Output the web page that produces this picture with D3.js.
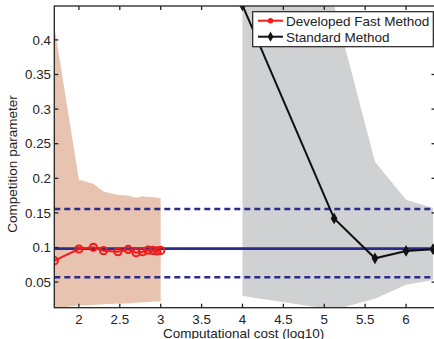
<!DOCTYPE html>
<html>
<head>
<meta charset="utf-8">
<script src="https://cdn.jsdelivr.net/npm/d3@7"></script>
<style>
  body { margin: 0; background: #fff; }
  text { font-family: "Liberation Sans", Arial, sans-serif; fill: #222; }
</style>
</head>
<body>
<script>
// fast method: x = log10 cost
const fastX = [1.699, 2.0, 2.176, 2.301, 2.477, 2.602, 2.699, 2.778, 2.845, 2.903, 2.954, 3.0];
const fastY = [0.081, 0.0978, 0.1003, 0.0954, 0.094, 0.0972, 0.0925, 0.094, 0.0962, 0.0958, 0.095, 0.0958];
const fastUpper = [0.42, 0.198, 0.192, 0.181, 0.176, 0.175, 0.172, 0.174, 0.173, 0.173, 0.172, 0.171];
const fastLower = [0.012, 0.016, 0.017, 0.018, 0.019, 0.019, 0.02, 0.021, 0.021, 0.022, 0.022, 0.022];

const stdX = [4.0, 5.12, 5.62, 6.0, 6.33];
const stdY = [0.45, 0.142, 0.0844, 0.095, 0.0975];
const stdUpper = [0.7, 0.45, 0.224, 0.169, 0.157];
const stdLower = [0.030, 0.010, 0.026, 0.046, 0.053];

const refMean = 0.0983;
const refBounds = [0.1556, 0.0569];

const xTicks = [2, 2.5, 3, 3.5, 4, 4.5, 5, 5.5, 6];
const yTicks = [0.05, 0.1, 0.15, 0.2, 0.25, 0.3, 0.35, 0.4];
const legendLabels = ["Developed Fast Method", "Standard Method"];

const width = 434, height = 339;
const pL = 54.3, pR = 435.5, pT = 6, pB = 307.7;
const blue = "#2b2b8c";

const x = d3.scaleLinear().domain([1.699, 6.36]).range([pL, pR]);
const y = d3.scaleLinear().domain([0.013, 0.449]).range([pB, pT]);

const svg = d3.create("svg")
  .attr("width", width)
  .attr("height", height)
  .attr("viewBox", [0, 0, width, height]);

svg.append("defs").append("clipPath").attr("id", "plot")
  .append("rect")
  .attr("x", pL).attr("y", pT)
  .attr("width", pR - pL).attr("height", pB - pT);

const g = svg.append("g").attr("clip-path", "url(#plot)");

const area = d3.area()
  .x(d => x(d[0]))
  .y0(d => y(d[1]))
  .y1(d => y(d[2]));

g.append("path")
  .attr("d", area(fastX.map((v, i) => [v, fastLower[i], fastUpper[i]])))
  .attr("fill", "#e8c3af");

g.append("path")
  .attr("d", area(stdX.map((v, i) => [v, stdLower[i], stdUpper[i]])))
  .attr("fill", "#d0d1d3");

// reference lines
g.append("line")
  .attr("x1", pL).attr("x2", pR)
  .attr("y1", y(refMean)).attr("y2", y(refMean))
  .attr("stroke", blue).attr("stroke-width", 2.6);

g.selectAll(".dash")
  .data(refBounds)
  .join("line")
  .attr("class", "dash")
  .attr("x1", pL).attr("x2", pR)
  .attr("y1", d => y(d)).attr("y2", d => y(d))
  .attr("stroke", blue).attr("stroke-width", 2.4)
  .attr("stroke-dasharray", "6,4");

const line = d3.line().x(d => x(d[0])).y(d => y(d[1]));

const fast = fastX.map((v, i) => [v, fastY[i]]);
g.append("path")
  .attr("d", line(fast))
  .attr("fill", "none").attr("stroke", "#f01c1c").attr("stroke-width", 2);
g.selectAll(".fastpt")
  .data(fast)
  .join("circle")
  .attr("class", "fastpt")
  .attr("cx", d => x(d[0])).attr("cy", d => y(d[1]))
  .attr("r", 3.6)
  .attr("fill", "none").attr("stroke", "#f01c1c").attr("stroke-width", 2);

const std = stdX.map((v, i) => [v, stdY[i]]);
g.append("path")
  .attr("d", line(std))
  .attr("fill", "none").attr("stroke", "#111").attr("stroke-width", 2);
const diamond = d3.symbol().type(d3.symbolDiamond).size(40);
g.selectAll(".stdpt")
  .data(std)
  .join("path")
  .attr("class", "stdpt")
  .attr("transform", d => `translate(${x(d[0])},${y(d[1])})`)
  .attr("d", diamond)
  .attr("fill", "#111");

// frame and inward ticks
const frame = svg.append("g").attr("stroke", "#222").attr("stroke-width", 1.3);
frame.append("rect")
  .attr("x", pL).attr("y", pT)
  .attr("width", pR - pL).attr("height", pB - pT)
  .attr("fill", "none");

const tk = 4;
xTicks.forEach(t => {
  frame.append("line").attr("x1", x(t)).attr("x2", x(t)).attr("y1", pB).attr("y2", pB - tk);
  frame.append("line").attr("x1", x(t)).attr("x2", x(t)).attr("y1", pT).attr("y2", pT + tk);
});
yTicks.forEach(t => {
  frame.append("line").attr("x1", pL).attr("x2", pL + tk).attr("y1", y(t)).attr("y2", y(t));
  frame.append("line").attr("x1", pR).attr("x2", pR - tk).attr("y1", y(t)).attr("y2", y(t));
});

svg.selectAll(".xlab")
  .data(xTicks)
  .join("text")
  .attr("class", "xlab")
  .attr("x", d => x(d)).attr("y", 324)
  .attr("text-anchor", "middle")
  .attr("font-size", 13.3)
  .text(d => d);

svg.selectAll(".ylab")
  .data(yTicks)
  .join("text")
  .attr("class", "ylab")
  .attr("x", 51).attr("y", d => y(d) + 4.7)
  .attr("text-anchor", "end")
  .attr("font-size", 13.3)
  .text(d => d);

svg.append("text")
  .attr("x", (pL + 433) / 2).attr("y", 338)
  .attr("text-anchor", "middle")
  .attr("font-size", 13.5)
  .text("Computational cost (log10)");

svg.append("text")
  .attr("transform", "translate(17,164) rotate(-90)")
  .attr("text-anchor", "middle")
  .attr("font-size", 13.5)
  .text("Competition parameter");

// legend
const lg = svg.append("g");
lg.append("rect")
  .attr("x", 252.7).attr("y", 11.7)
  .attr("width", 180.6).attr("height", 35)
  .attr("fill", "#fff").attr("stroke", "#222").attr("stroke-width", 1.2);

const items = lg.selectAll(".item")
  .data(legendLabels)
  .join("g")
  .attr("class", "item")
  .attr("transform", (d, i) => `translate(0,${20.7 + i * 16})`);
items.append("line")
  .attr("x1", 258).attr("x2", 283)
  .attr("stroke", (d, i) => i === 0 ? "#f01c1c" : "#111")
  .attr("stroke-width", 2);
items.append("path")
  .attr("transform", "translate(270.5,0)")
  .attr("d", (d, i) => i === 0
    ? d3.symbol().type(d3.symbolCircle).size(24)()
    : d3.symbol().type(d3.symbolDiamond).size(30)())
  .attr("fill", (d, i) => i === 0 ? "#f01c1c" : "#111");
items.append("text")
  .attr("x", 286).attr("y", 4.8)
  .attr("font-size", 13.5)
  .text(d => d);

document.body.appendChild(svg.node());
</script>
</body>
</html>
